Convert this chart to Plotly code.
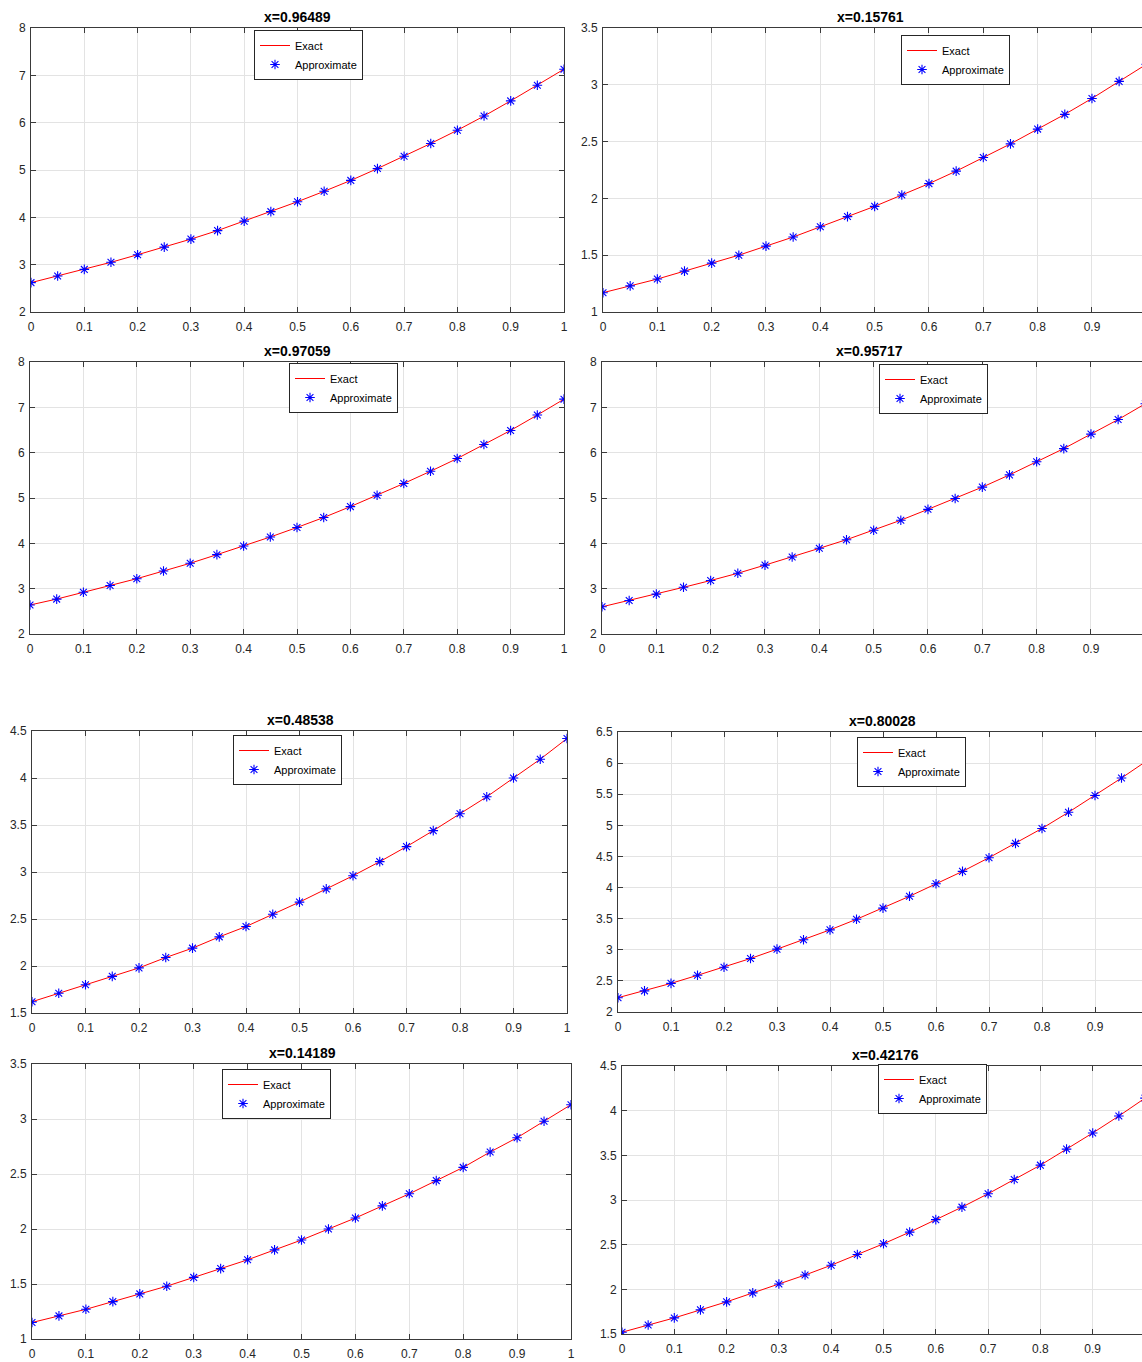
import plotly.graph_objects as go

# ---------------- data ----------------
t = [0.00, 0.05, 0.10, 0.15, 0.20, 0.25, 0.30, 0.35, 0.40, 0.45, 0.50,
     0.55, 0.60, 0.65, 0.70, 0.75, 0.80, 0.85, 0.90, 0.95, 1.00]

x_tick_vals = [0, 0.1, 0.2, 0.3, 0.4, 0.5, 0.6, 0.7, 0.8, 0.9, 1.0]
x_tick_text = ["0", "0.1", "0.2", "0.3", "0.4", "0.5", "0.6", "0.7", "0.8", "0.9", "1"]

titles = ["x=0.96489", "x=0.15761", "x=0.97059", "x=0.95717",
          "x=0.48538", "x=0.80028", "x=0.14189", "x=0.42176"]

u_096489 = [2.62, 2.76, 2.90, 3.05, 3.21, 3.37, 3.54, 3.72, 3.92, 4.12, 4.33,
            4.55, 4.78, 5.03, 5.29, 5.56, 5.84, 6.14, 6.46, 6.79, 7.13]
u_015761 = [1.17, 1.23, 1.29, 1.36, 1.43, 1.50, 1.58, 1.66, 1.75, 1.84, 1.93,
            2.03, 2.13, 2.24, 2.36, 2.48, 2.61, 2.74, 2.88, 3.03, 3.18]
u_097059 = [2.64, 2.77, 2.92, 3.07, 3.22, 3.39, 3.56, 3.75, 3.94, 4.14, 4.35,
            4.57, 4.81, 5.06, 5.32, 5.59, 5.87, 6.18, 6.49, 6.83, 7.18]
u_095717 = [2.60, 2.74, 2.88, 3.03, 3.18, 3.34, 3.52, 3.70, 3.89, 4.08, 4.29,
            4.51, 4.75, 4.99, 5.24, 5.51, 5.80, 6.09, 6.41, 6.73, 7.08]
u_048538 = [1.62, 1.71, 1.80, 1.89, 1.98, 2.09, 2.19, 2.31, 2.42, 2.55, 2.68,
            2.82, 2.96, 3.11, 3.27, 3.44, 3.62, 3.80, 4.00, 4.20, 4.42]
u_080028 = [2.23, 2.34, 2.46, 2.59, 2.72, 2.86, 3.01, 3.16, 3.32, 3.49, 3.67,
            3.86, 4.06, 4.26, 4.48, 4.71, 4.95, 5.21, 5.48, 5.76, 6.05]
u_014189 = [1.15, 1.21, 1.27, 1.34, 1.41, 1.48, 1.56, 1.64, 1.72, 1.81, 1.90,
            2.00, 2.10, 2.21, 2.32, 2.44, 2.56, 2.70, 2.83, 2.98, 3.13]
u_042176 = [1.52, 1.60, 1.68, 1.77, 1.86, 1.96, 2.06, 2.16, 2.27, 2.39, 2.51,
            2.64, 2.78, 2.92, 3.07, 3.23, 3.39, 3.57, 3.75, 3.94, 4.14]

series = [u_096489, u_015761, u_097059, u_095717, u_048538, u_080028, u_014189, u_042176]

y_ranges = [(2, 8), (1, 3.5), (2, 8), (2, 8), (1.5, 4.5), (2, 6.5), (1, 3.5), (1.5, 4.5)]
y_steps = [1, 0.5, 1, 1, 0.5, 0.5, 0.5, 0.5]

# ---------------- geometry (pixels) ----------------
W, H = 1142, 1362
# (left, right, top, bottom, px per x-unit or None for full, title centre x)
boxes = [
    (31, 564, 28, 312, None, 297),
    (603, W, 28, 312, 543.3, 870),
    (30, 564, 362, 634, None, 297),
    (602, W, 362, 634, 543.3, 869),
    (32, 567, 731, 1013, None, 300),
    (618, W, 732, 1012, 530.0, 882),
    (32, 571, 1064, 1339, None, 302),
    (622, W, 1066, 1334, 523.0, 885),
]
# top-left corner of each reference legend box (box ~34 px tall)
legend_pos = [(254, 37), (901, 42), (289, 370), (879, 371),
              (233, 742), (857, 744), (222, 1076), (878, 1071)]

AX = "#3a3a3a"
GRID = "#e3e3e3"
FONT = "Liberation Sans, Arial, sans-serif"

fig = go.Figure()
layout = dict(width=W, height=H, margin=dict(l=0, r=0, t=0, b=0),
              paper_bgcolor="white", plot_bgcolor="white", showlegend=True,
              font=dict(family=FONT, size=12, color="#262626"))
annotations = []

for i in range(8):
    n = i + 1
    sfx = "" if n == 1 else str(n)
    l, r, top, bot, ppu, tcx = boxes[i]
    xmax = 1.0 if ppu is None else (r - l) / ppu
    is_right = ppu is not None
    leg = "legend" + sfx

    fig.add_trace(go.Scatter(x=t, y=series[i], mode="lines", name="Exact",
                             line=dict(color="#ff0000", width=1),
                             xaxis="x" + sfx, yaxis="y" + sfx, legend=leg))
    fig.add_trace(go.Scatter(x=t, y=series[i], mode="markers", name="Approximate",
                             marker=dict(symbol="asterisk-open", size=8, color="#0000ff",
                                         line=dict(color="#0000ff", width=1.1)),
                             xaxis="x" + sfx, yaxis="y" + sfx, legend=leg))

    y0, y1 = y_ranges[i]
    st = y_steps[i]
    yt = []
    v = y0
    while v <= y1 + 1e-9:
        yt.append(round(v, 3))
        v += st
    ytt = [("%g" % val) for val in yt]

    layout["xaxis" + sfx] = dict(
        domain=[l / W, r / W], range=[0, xmax], anchor="y" + sfx,
        tickvals=x_tick_vals, ticktext=x_tick_text,
        showgrid=True, gridcolor=GRID, gridwidth=1, zeroline=False,
        showline=True, linecolor=AX, linewidth=1, mirror="ticks",
        ticks="inside", ticklen=5, tickcolor=AX, tickwidth=1,
        ticklabelstandoff=4,
        tickfont=dict(size=12, color="#262626", family=FONT),
        automargin=False, fixedrange=True)
    layout["yaxis" + sfx] = dict(
        domain=[1 - bot / H, 1 - top / H], range=[y0, y1], anchor="x" + sfx,
        tickvals=yt, ticktext=ytt,
        showgrid=True, gridcolor=GRID, gridwidth=1, zeroline=False,
        showline=True, linecolor=AX, linewidth=1,
        mirror=False if is_right else "ticks",
        ticks="inside", ticklen=5, tickcolor=AX, tickwidth=1,
        ticklabelstandoff=2,
        tickfont=dict(size=12, color="#262626", family=FONT),
        automargin=False, fixedrange=True)

    lx, ly = legend_pos[i]
    layout[leg] = dict(x=lx / W, y=1 - (ly - 7) / H, xanchor="left", yanchor="top",
                       xref="paper", yref="paper",
                       bgcolor="white", bordercolor="#262626", borderwidth=1,
                       font=dict(size=11, color="#000000", family=FONT),
                       itemwidth=30, tracegroupgap=0)

    annotations.append(dict(text="<b>" + titles[i] + "</b>", x=tcx / W, y=1 - top / H,
                            xref="paper", yref="paper", xanchor="center", yanchor="bottom",
                            yshift=1, showarrow=False,
                            font=dict(size=14, color="#000000", family=FONT)))

layout["annotations"] = annotations
fig.update_layout(**layout)
fig.write_html("out.html", config={"displayModeBar": False},
               post_script="document.body.style.margin='0';")
